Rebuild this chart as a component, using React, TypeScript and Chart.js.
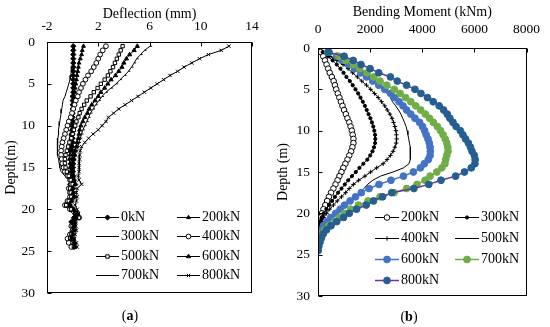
import React, { useEffect, useRef } from 'react';
import { Chart, registerables } from 'chart.js';
import { drawPoint } from 'chart.js/helpers';

Chart.register(...registerables);

const FONT = "'Liberation Serif', 'Times New Roman', serif";

// Depth (m) of each reading
const depth = [
  0.5, 1.0, 1.5, 2.0, 2.5, 3.0, 3.5, 4.0, 4.5, 5.0,
  5.5, 6.0, 6.5, 7.0, 7.5, 8.0, 8.5, 9.0, 9.5, 10.0,
  10.5, 11.0, 11.5, 12.0, 12.5, 13.0, 13.5, 14.0, 14.5, 15.0,
  15.5, 16.0, 16.5, 17.0, 17.5, 18.0, 18.5, 19.0, 19.5, 20.0,
  20.5, 21.0, 21.5, 22.0, 22.5, 23.0, 23.5, 24.0, 24.5,
];

// ---- Panel (a): deflection (mm) ----
const defl0kN = [
  0.05, 0.05, 0.05, 0.05, 0.05, 0.05, 0.05, 0.05, 0.05, 0.05,
  0.05, 0.05, 0.0, 0.0, 0.0, 0.0, 0.0, 0.0, 0.0, 0.0,
  0.0, 0.0, 0.0, 0.0, -0.05, 0.0, 0.05, 0.0, 0.0, -0.05,
  0.0, 0.0, -0.1, -0.2, -0.1, 0.0, 0.1, -0.2, -0.3, -0.1,
  0.2, 0.1, -0.1, 0.0, 0.0, -0.2, -0.1, 0.0, 0.1,
];
const defl200kN = [
  0.85, 0.75, 0.7, 0.6, 0.5, 0.45, 0.4, 0.35, 0.3, 0.25,
  0.2, 0.15, 0.1, 0.05, 0.05, 0.0, 0.0, -0.05, -0.05, -0.1,
  -0.1, -0.15, -0.15, -0.2, -0.2, -0.2, -0.2, -0.25, -0.2, -0.2,
  -0.15, -0.1, -0.1, 0.0, -0.1, -0.2, 0.0, -0.1, -0.3, 0.0,
  0.3, 0.4, 0.1, 0.0, 0.05, -0.1, 0.0, 0.1, 0.2,
];
const defl300kN = [
  0.15, 0.12, 0.1, 0.05, 0.0, -0.05, -0.1, -0.15, -0.2, -0.3,
  -0.4, -0.5, -0.6, -0.75, -0.8, -0.85, -0.9, -0.95, -1.0, -1.05,
  -1.1, -1.1, -1.15, -1.2, -1.2, -1.2, -1.15, -1.1, -1.05, -1.0,
  -0.9, -0.6, -0.3, -0.1, -0.2, -0.1, -0.3, -0.5, -0.7, -0.3,
  0.0, 0.2, -0.1, -0.2, -0.1, -0.3, -0.2, -0.1, 0.0,
];
const defl400kN = [
  2.6, 2.35, 2.15, 2.0, 1.85, 1.65, 1.45, 1.2, 1.0, 0.8,
  0.65, 0.5, 0.4, 0.25, 0.15, 0.05, -0.05, -0.15, -0.3, -0.4,
  -0.5, -0.6, -0.7, -0.8, -0.85, -0.9, -0.9, -0.85, -0.8, -0.7,
  -0.6, -0.4, -0.2, -0.1, -0.3, -0.2, -0.2, -0.4, -0.6, -0.2,
  0.3, 0.5, 0.1, -0.1, 0.0, -0.2, -0.4, -0.3, -0.1,
];
const defl500kN = [
  3.9, 3.75, 3.6, 3.45, 3.3, 3.15, 2.95, 2.75, 2.5, 2.2,
  1.95, 1.65, 1.4, 1.1, 0.9, 0.7, 0.55, 0.45, 0.3, 0.2,
  0.1, 0.0, -0.1, -0.25, -0.35, -0.45, -0.55, -0.6, -0.6, -0.55,
  -0.45, -0.3, -0.15, 0.0, -0.2, -0.15, -0.1, -0.3, -0.5, -0.1,
  0.4, 0.5, 0.2, 0.0, 0.1, -0.1, -0.2, 0.0, 0.1,
];
const defl600kN = [
  5.05, 4.8, 4.45, 4.2, 4.0, 3.85, 3.6, 3.35, 3.0, 2.75,
  2.5, 2.2, 2.0, 1.75, 1.5, 1.3, 1.15, 0.95, 0.8, 0.65,
  0.55, 0.5, 0.45, 0.35, 0.3, 0.2, 0.15, 0.1, 0.05, 0.0,
  0.0, 0.05, 0.1, 0.2, 0.0, 0.05, 0.1, -0.1, -0.2, 0.1,
  0.3, 0.2, 0.0, 0.1, 0.05, 0.0, -0.1, 0.1, 0.15,
];
const defl700kN = [
  6.05, 5.6, 5.3, 5.0, 4.8, 4.6, 4.35, 4.05, 3.7, 3.4,
  3.0, 2.6, 2.3, 2.05, 1.8, 1.6, 1.4, 1.25, 1.1, 0.95,
  0.8, 0.7, 0.6, 0.5, 0.4, 0.3, 0.2, 0.15, 0.1, 0.1,
  0.1, 0.15, 0.2, 0.3, 0.1, 0.0, 0.1, 0.0, -0.1, 0.1,
  0.2, 0.3, 0.1, 0.0, 0.1, 0.0, 0.1, 0.2, 0.2,
];
const defl800kN = [
  12.2, 11.6, 10.6, 9.9, 9.3, 8.7, 8.2, 7.6, 7.1, 6.6,
  6.1, 5.6, 5.1, 4.6, 4.1, 3.6, 3.2, 2.8, 2.6, 2.3,
  2.0, 1.6, 1.25, 0.95, 0.7, 0.6, 0.55, 0.55, 0.5, 0.5,
  0.5, 0.45, 0.5, 0.7, 0.35, 0.3, 0.35, 0.3, 0.2, 0.35,
  0.45, 0.3, 0.2, 0.25, 0.3, 0.2, 0.15, 0.3, 0.35,
];

// ---- Panel (b): bending moment (kNm) ----
const bm200kN = [
  100, 200, 270, 330, 390, 450, 530, 600, 650, 700,
  760, 820, 880, 940, 1000, 1070, 1130, 1200, 1250, 1300,
  1330, 1360, 1360, 1320, 1270, 1200, 1130, 1050, 970, 900,
  820, 750, 670, 590, 500, 420, 350, 280, 210, 150,
  100, 50, 20, 0, null, null, null, null, null,
];
const bm300kN = [
  180, 380, 560, 720, 860, 980, 1090, 1220, 1330, 1440,
  1540, 1630, 1720, 1800, 1870, 1940, 2010, 2070, 2120, 2160,
  2190, 2200, 2190, 2150, 2090, 2000, 1890, 1740, 1590, 1450,
  1300, 1160, 1030, 900, 770, 650, 540, 430, 320, 220,
  140, 70, 10, 0, null, null, null, null, null,
];
const bm400kN = [
  230, 450, 720, 960, 1150, 1330, 1510, 1680, 1860, 2020,
  2170, 2310, 2440, 2560, 2660, 2760, 2840, 2900, 2950, 2990,
  3010, 3020, 3000, 2950, 2880, 2780, 2650, 2500, 2250, 2020,
  1800, 1560, 1360, 1200, 1060, 900, 740, 590, 450, 330,
  220, 140, 60, 0, null, null, null, null, null,
];
const bm500kN = [
  260, 500, 800, 1150, 1520, 1780, 2000, 2180, 2340, 2490,
  2650, 2780, 2860, 2980, 3090, 3180, 3250, 3320, 3380, 3420,
  3450, 3480, 3510, 3540, 3550, 3550, 3530, 3490, 3280, 2880,
  2400, 2100, 1900, 1760, 1620, 1390, 1180, 1080, 950, 700,
  490, 280, 90, 20, 0, null, null, null, null,
];
const bm600kN = [
  420, 720, 920, 1170, 1400, 1640, 1860, 2100, 2330, 2560,
  2790, 2940, 3110, 3260, 3400, 3560, 3720, 3900, 4010, 4090,
  4150, 4220, 4270, 4300, 4310, 4300, 4230, 4080, 3930, 3660,
  3280, 2800, 2340, 1960, 1660, 1440, 1230, 1020, 850, 680,
  490, 340, 210, 130, 80, 40, 10, 0, 0,
];
const bm700kN = [
  380, 800, 1050, 1350, 1600, 1880, 2140, 2380, 2640, 2930,
  3150, 3360, 3560, 3750, 3940, 4120, 4280, 4430, 4580, 4700,
  4800, 4880, 4940, 4980, 4990, 4940, 4900, 4870, 4750, 4560,
  4300, 4110, 3800, 3400, 2920, 2380, 1920, 1550, 1260, 1020,
  830, 640, 420, 260, 140, 90, 50, 20, 0,
];
const bm800kN = [
  400, 1000, 1350, 1650, 2000, 2330, 2780, 3040, 3400, 3720,
  3950, 4200, 4420, 4650, 4820, 4960, 5060, 5180, 5300, 5460,
  5560, 5660, 5770, 5850, 5910, 6000, 6030, 6020, 5880, 5620,
  5280, 4720, 4250, 3680, 2830, 2480, 2130, 1850, 1480, 1200,
  980, 720, 500, 330, 200, 130, 75, 30, 0,
];

const deflLabels = ['0kN', '200kN', '300kN', '400kN', '500kN', '600kN', '700kN', '800kN'];
const bmLabels = ['200kN', '300kN', '400kN', '500kN', '600kN', '700kN', '800kN'];
const deflTicks = [-2, 2, 6, 10, 14];
const bmTicks = [0, 2000, 4000, 6000, 8000];
const depthTicks = [0, 5, 10, 15, 20, 25, 30];

type Style = { style: any; r: number; fill: string; stroke: string; line: string; lw: number };

const deflStyles: Style[] = [
  { style: 'rectRot', r: 2.6, fill: '#000', stroke: '#000', line: '#000', lw: 1 },
  { style: 'triangle', r: 2.2, fill: '#000', stroke: '#000', line: '#000', lw: 1 },
  { style: 'circle', r: 0, fill: '#000', stroke: '#000', line: '#000', lw: 1 },
  { style: 'circle', r: 2.4, fill: '#fff', stroke: '#000', line: '#000', lw: 1 },
  { style: 'rect', r: 2.4, fill: '#fff', stroke: '#000', line: '#000', lw: 1 },
  { style: 'triangle', r: 2.4, fill: '#000', stroke: '#000', line: '#000', lw: 1 },
  { style: 'dash', r: 2, fill: '#000', stroke: '#000', line: '#000', lw: 1 },
  { style: 'crossRot', r: 2.4, fill: '#000', stroke: '#000', line: '#000', lw: 1 },
];
const bmStyles: Style[] = [
  { style: 'circle', r: 2.8, fill: '#fff', stroke: '#000', line: '#000', lw: 1 },
  { style: 'circle', r: 1.6, fill: '#000', stroke: '#000', line: '#000', lw: 1 },
  { style: 'cross', r: 2.2, fill: '#000', stroke: '#000', line: '#000', lw: 1 },
  { style: 'circle', r: 0, fill: '#000', stroke: '#000', line: '#000', lw: 1 },
  { style: 'circle', r: 3.4, fill: '#4472C4', stroke: '#4472C4', line: '#4472C4', lw: 1.5 },
  { style: 'circle', r: 3.4, fill: '#70AD47', stroke: '#70AD47', line: '#70AD47', lw: 1.5 },
  { style: 'circle', r: 3.4, fill: '#255E91', stroke: '#255E91', line: '#7030A0', lw: 1.5 },
];

const frameTicks = {
  id: 'frameTicks',
  afterDraw(chart: any, _args: any, opts: any) {
    const { ctx, chartArea: a, scales } = chart;
    ctx.save();
    ctx.strokeStyle = '#000';
    ctx.lineWidth = 1;
    const L = Math.round(a.left) + 0.5, T = Math.round(a.top) + 0.5;
    const R = Math.round(a.right) - 0.5, B = Math.round(a.bottom) - 0.5;
    ctx.strokeRect(L, T, R - L, B - T);
    ctx.beginPath();
    scales.x.ticks.forEach((t: any) => {
      const px = Math.round(scales.x.getPixelForValue(t.value)) + 0.5;
      ctx.moveTo(px, T);
      ctx.lineTo(px, T + 4);
    });
    scales.y.ticks.forEach((t: any) => {
      const py = Math.round(scales.y.getPixelForValue(t.value)) + 0.5;
      ctx.moveTo(L, py);
      ctx.lineTo(L + 4, py);
    });
    ctx.stroke();
    // caption "(a)" with bold letter
    ctx.fillStyle = '#000';
    ctx.textBaseline = 'middle';
    ctx.textAlign = 'left';
    const normal = `14px ${FONT}`;
    const bold = `bold 14px ${FONT}`;
    ctx.font = normal;
    const w1 = ctx.measureText('(').width;
    const w3 = ctx.measureText(')').width;
    ctx.font = bold;
    const w2 = ctx.measureText(opts.letter).width;
    let x = opts.x - (w1 + w2 + w3) / 2;
    ctx.font = normal;
    ctx.fillText('(', x, opts.y);
    x += w1;
    ctx.font = bold;
    ctx.fillText(opts.letter, x, opts.y);
    x += w2;
    ctx.font = normal;
    ctx.fillText(')', x, opts.y);
    ctx.restore();
  },
};

const customLegend = {
  id: 'customLegend',
  afterDraw(chart: any, _args: any, opts: any) {
    const { ctx } = chart;
    ctx.save();
    ctx.font = `14px ${FONT}`;
    ctx.textBaseline = 'middle';
    ctx.textAlign = 'left';
    chart.data.datasets.forEach((ds: any, i: number) => {
      const col = i % 2;
      const row = Math.floor(i / 2);
      const x0 = opts.cols[col];
      const y = Math.round(opts.top + row * opts.gap) + 0.5;
      ctx.strokeStyle = ds.borderColor;
      ctx.lineWidth = ds.borderWidth;
      ctx.beginPath();
      ctx.moveTo(x0, y);
      ctx.lineTo(x0 + opts.len, y);
      ctx.stroke();
      if (ds.pointRadius > 0) {
        ctx.fillStyle = ds.pointBackgroundColor;
        ctx.strokeStyle = ds.pointBorderColor;
        ctx.lineWidth = 1;
        drawPoint(ctx, { pointStyle: ds.pointStyle, radius: ds.pointRadius, rotation: 0, borderWidth: 1 } as any, x0 + opts.len / 2, y);
      }
      ctx.fillStyle = '#000';
      ctx.fillText(ds.label, x0 + opts.len + opts.textGap, y);
    });
    ctx.restore();
  },
};

function buildConfig(p: any) {
  const n = p.series.length;
  return {
    type: 'scatter',
    data: {
      datasets: p.series.map((vals: (number | null)[], i: number) => {
        const s: Style = p.styles[i];
        return {
          label: p.labels[i],
          data: depth
            .map((d, k) => (vals[k] == null ? null : { x: vals[k], y: d }))
            .filter((v) => v !== null),
          showLine: true,
          borderColor: s.line,
          borderWidth: s.lw,
          pointStyle: s.style,
          pointRadius: s.r,
          pointHoverRadius: s.r,
          pointBackgroundColor: s.fill,
          pointBorderColor: s.stroke,
          pointBorderWidth: 1,
          tension: 0,
          order: n - i,
        };
      }),
    },
    options: {
      responsive: false,
      animation: false,
      devicePixelRatio: 1,
      events: [],
      layout: { padding: p.pad },
      plugins: {
        legend: { display: false },
        tooltip: { enabled: false },
        customLegend: p.legend,
        frameTicks: p.caption,
      },
      scales: {
        x: {
          type: 'linear',
          position: 'top',
          min: p.xTicks[0],
          max: p.xTicks[p.xTicks.length - 1],
          afterBuildTicks: (s: any) => {
            s.ticks = p.xTicks.map((v: number) => ({ value: v }));
          },
          ticks: {
            color: '#000',
            padding: p.xTickPad,
            font: { family: FONT, size: 13.5 },
            callback: (v: any) => String(v),
          },
          grid: { display: false, drawTicks: false, tickLength: 0 },
          border: { display: false },
          title: {
            display: true,
            text: p.xTitle,
            color: '#000',
            font: { family: FONT, size: 14 },
            padding: { top: p.xTitlePad, bottom: 0 },
          },
          afterFit: (s: any) => {
            s.height = p.pad.xh;
          },
        },
        y: {
          type: 'linear',
          position: 'left',
          reverse: true,
          min: 0,
          max: 30,
          afterBuildTicks: (s: any) => {
            s.ticks = depthTicks.map((v) => ({ value: v }));
          },
          ticks: {
            color: '#000',
            padding: p.yTickPad,
            font: { family: FONT, size: 13.5 },
            callback: (v: any) => String(v),
          },
          grid: { display: false, drawTicks: false, tickLength: 0 },
          border: { display: false },
          title: {
            display: true,
            text: p.yTitle,
            color: '#000',
            font: { family: FONT, size: 14 },
            padding: { top: p.yTitlePad, bottom: 0 },
          },
          afterFit: (s: any) => {
            s.width = p.pad.yw;
          },
        },
      },
    },
    plugins: [frameTicks, customLegend],
  };
}

const configA = {
  series: [defl0kN, defl200kN, defl300kN, defl400kN, defl500kN, defl600kN, defl700kN, defl800kN],
  labels: deflLabels,
  styles: deflStyles,
  xTicks: deflTicks,
  xTitle: 'Deflection (mm)',
  yTitle: 'Depth(m)',
  xTickPad: 7,
  yTickPad: 12,
  xTitlePad: 5.6,
  yTitlePad: 3.4,
  pad: { left: 0, top: 0, right: 23, bottom: 34, xh: 42, yw: 47 },
  legend: { cols: [96, 177], len: 23, textGap: 2, top: 217, gap: 19.3 },
  caption: { letter: 'a', x: 130, y: 316 },
};

const configB = {
  series: [bm200kN, bm300kN, bm400kN, bm500kN, bm600kN, bm700kN, bm800kN],
  labels: bmLabels,
  styles: bmStyles,
  xTicks: bmTicks,
  xTitle: 'Bending Moment (kNm)',
  yTitle: 'Depth (m)',
  xTickPad: 10,
  yTickPad: 8,
  xTitlePad: 3.6,
  yTitlePad: 0,
  pad: { left: 0, top: 0, right: 20, bottom: 31, xh: 48, yw: 43 },
  legend: { cols: [100, 180], len: 24, textGap: 2, top: 217, gap: 21 },
  caption: { letter: 'b', x: 134, y: 317 },
};

function Panel({ cfg, left }: { cfg: any; left: number }) {
  const ref = useRef<HTMLCanvasElement | null>(null);
  useEffect(() => {
    const chart = new Chart(ref.current as HTMLCanvasElement, buildConfig(cfg) as any);
    return () => chart.destroy();
  }, [cfg]);
  return (
    <canvas
      ref={ref}
      width={275}
      height={327}
      style={{ position: 'absolute', left, top: 0, width: 275, height: 327 }}
    />
  );
}

export default function App() {
  return (
    <div style={{ position: 'absolute', left: 0, top: 0, width: 550, height: 327, background: '#fff' }}>
      <Panel cfg={configA} left={0} />
      <Panel cfg={configB} left={275} />
    </div>
  );
}
